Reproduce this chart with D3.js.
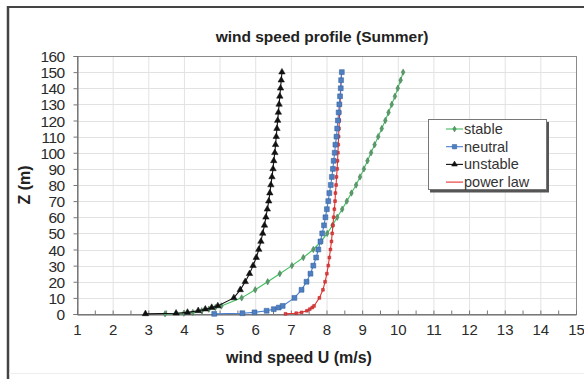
<!DOCTYPE html>
<html><head><meta charset="utf-8">
<script src="https://cdn.jsdelivr.net/npm/d3@7/dist/d3.min.js"></script>
<style>body{margin:0;background:#fff}svg{display:block}text{font-family:"Liberation Sans",Arial,sans-serif}</style>
</head><body>
<script>
const heights = [0.1,0.5,1,2,3,4,5,10,15,20,25,30,35,40,45,50,55,60,65,70,75,80,85,90,95,100,105,110,115,120,125,130,135,140,145,150];
const stable   = [3.47,4.0,4.25,4.5,4.7,4.88,5.05,5.62,6.0,6.35,6.69,7.03,7.35,7.63,7.85,8.02,8.17,8.3,8.44,8.57,8.7,8.83,8.94,9.05,9.15,9.25,9.35,9.45,9.55,9.65,9.74,9.83,9.92,10.0,10.08,10.15];
const neutral  = [4.85,5.64,5.98,6.32,6.52,6.66,6.77,7.1,7.3,7.44,7.55,7.63,7.71,7.77,7.83,7.88,7.93,7.97,8.01,8.05,8.08,8.12,8.15,8.18,8.2,8.23,8.25,8.28,8.3,8.32,8.34,8.36,8.38,8.4,8.41,8.43];
const unstable = [2.92,3.78,4.1,4.4,4.6,4.78,4.95,5.4,5.58,5.72,5.84,5.94,6.03,6.1,6.16,6.21,6.26,6.3,6.34,6.38,6.41,6.44,6.47,6.5,6.52,6.55,6.57,6.59,6.61,6.63,6.65,6.67,6.69,6.71,6.73,6.75];
const powerLaw = [6.85,7.15,7.3,7.45,7.53,7.6,7.65,7.8,7.9,7.96,8.01,8.05,8.08,8.11,8.14,8.16,8.18,8.2,8.22,8.24,8.25,8.27,8.28,8.3,8.31,8.32,8.33,8.34,8.35,8.36,8.37,8.38,8.39,8.4,8.41,8.42];
const xTicks = [1,2,3,4,5,6,7,8,9,10,11,12,13,14,15];
const yTicks = [0,10,20,30,40,50,60,70,80,90,100,110,120,130,140,150,160];
const seriesNames = ["stable","neutral","unstable","power law"];

const W=584,H=379;
const svg=d3.select("body").append("svg").attr("width",W).attr("height",H);
svg.append("rect").attr("width",W).attr("height",H).attr("fill","#fff");
// outer frame
svg.append("line").attr("x1",8).attr("x2",W).attr("y1",7).attr("y2",7).attr("stroke","#444").attr("stroke-width",2);
svg.append("line").attr("x1",8).attr("x2",8).attr("y1",6).attr("y2",H).attr("stroke","#444").attr("stroke-width",2.5);
svg.append("line").attr("x1",9).attr("x2",W).attr("y1",373.5).attr("y2",373.5).attr("stroke","#eee").attr("stroke-width",1);

const x=d3.scaleLinear().domain([1,15]).range([77,576]);
const y=d3.scaleLinear().domain([0,160]).range([314,56]);

// grid
const g=svg.append("g");
g.selectAll(".vg").data(xTicks.slice(1,-1)).join("line")
 .attr("x1",d=>x(d)+0.5).attr("x2",d=>x(d)+0.5).attr("y1",y(160)).attr("y2",y(0)).attr("stroke","#e2e2e2");
g.selectAll(".hg").data(yTicks.slice(1,-1)).join("line")
 .attr("y1",d=>Math.round(y(d))+0.5).attr("y2",d=>Math.round(y(d))+0.5).attr("x1",x(1)).attr("x2",x(15)).attr("stroke","#e2e2e2");
// plot border
svg.append("rect").attr("x",x(1)+0.5).attr("y",y(160)+0.5).attr("width",x(15)-x(1)).attr("height",y(0)-y(160))
 .attr("fill","none").attr("stroke","#8a8a8a");

// axes
const xAxis=svg.append("g").attr("transform",`translate(0,${y(0)+0.5})`)
 .call(d3.axisBottom(x).tickValues(d3.range(1,15.01,0.5)).tickSize(-4).tickFormat(""));
xAxis.select(".domain").attr("stroke","#666");
xAxis.selectAll(".tick line").attr("stroke","#777");
const xl=svg.append("g").attr("transform",`translate(0,${y(0)})`)
 .call(d3.axisBottom(x).tickValues(xTicks).tickSize(0).tickPadding(0).tickFormat(d3.format("d")));
xl.select(".domain").remove();
xl.selectAll("text").attr("font-size",15).attr("fill","#2a2a2a").attr("dy",null).attr("y",20.5).attr("font-family","Liberation Sans, Arial, sans-serif");

const yAxis=svg.append("g").attr("transform",`translate(${x(1)+0.5},0)`)
 .call(d3.axisLeft(y).tickValues(yTicks).tickSize(4).tickPadding(9).tickFormat(d3.format("d")));
yAxis.select(".domain").attr("stroke","#666");
yAxis.selectAll(".tick line").attr("stroke","#777");
yAxis.selectAll("text").attr("font-size",15.5).attr("fill","#2a2a2a").attr("dy","0.36em").attr("font-family","Liberation Sans, Arial, sans-serif").attr("letter-spacing","-0.6");

// titles
svg.append("text").attr("x",322).attr("y",42).attr("text-anchor","middle").attr("font-weight","bold").attr("font-size",15.5).attr("fill","#222").text("wind speed profile (Summer)");
svg.append("text").attr("x",299).attr("y",363).attr("text-anchor","middle").attr("font-weight","bold").attr("font-size",16).attr("fill","#222").text("wind speed U (m/s)");
svg.append("text").attr("transform","translate(30,185) rotate(-90)").attr("text-anchor","middle").attr("font-weight","bold").attr("font-size",16).attr("fill","#222").text("Z (m)");

const styles=[
 {data:stable, line:"#3fbf5f", fill:"#5c9a6c", stroke:"#3f7a50", sym:d3.symbolDiamond, size:12},
 {data:neutral, line:"#4a7fd0", fill:"#4f7fc0", stroke:"#2f5f9a", sym:d3.symbolSquare, size:24},
 {data:unstable, line:"#111", fill:"#111", stroke:"#111", sym:d3.symbolTriangle, size:18},
 {data:powerLaw, line:"#e83030", fill:"#d84040", stroke:"#c02020", sym:d3.symbolSquare, size:8}
];
const line=d3.line().x(d=>x(d[0])).y(d=>y(d[1]));
const order=[0,3,1,2];
order.forEach(i=>{
 const s=styles[i];
 const pts=s.data.map((v,k)=>[v,heights[k]]);
 svg.append("path").attr("d",line(pts)).attr("fill","none").attr("stroke",s.line).attr("stroke-width",1.1);
 svg.append("g").selectAll("path").data(pts).join("path")
  .attr("transform",d=>`translate(${x(d[0])},${y(d[1])})`)
  .attr("d",d3.symbol().type(s.sym).size(s.size)).attr("fill",s.fill).attr("stroke",s.stroke).attr("stroke-width",0.5);
});

// legend
const lg=svg.append("g");
lg.append("rect").attr("x",430).attr("y",122).attr("width",119).attr("height",70.5).attr("fill","#555");
lg.append("rect").attr("x",428.5).attr("y",119.5).attr("width",118).attr("height",70).attr("fill","#fff").attr("stroke","#777");
seriesNames.forEach((n,i)=>{
 const s=styles[i];
 const yy=129+i*17.7;
 lg.append("line").attr("x1",446).attr("x2",463).attr("y1",yy).attr("y2",yy).attr("stroke",s.line).attr("stroke-width",1.1);
 if(i<3) lg.append("path").attr("transform",`translate(454.5,${yy})`).attr("d",d3.symbol().type(s.sym).size(s.size*0.8)).attr("fill",s.fill).attr("stroke",s.stroke).attr("stroke-width",0.5);
 lg.append("text").attr("x",464).attr("y",yy+5).attr("font-size",14.5).attr("fill","#333").text(n);
});
</script>
</body></html>
